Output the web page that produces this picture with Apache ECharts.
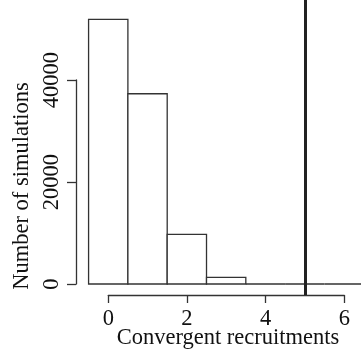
<!DOCTYPE html>
<html><head><meta charset="utf-8">
<script src="https://cdn.jsdelivr.net/npm/echarts@6/dist/echarts.min.js"></script>
<style>html,body{margin:0;padding:0;background:#fff}#c{width:361px;height:353px}</style>
</head><body><div id="c"></div>
<script>
var binCenters = [0, 1, 2, 3, 4, 5, 6];
var counts = [51900, 37300, 9740, 1310, 0, 0, 0];
var observed = 5;
var xTicks = [0, 2, 4, 6];
var yTicks = [0, 20000, 40000];
var xTitle = 'Convergent recruitments';
var yTitle = 'Number of simulations';

var FONT = '"Liberation Serif", "Times New Roman", serif';
var INK = '#333';
var chart = echarts.init(document.getElementById('c'), null, {renderer: 'canvas'});
var data = binCenters.map(function (c, i) { return [c, counts[i]]; });

chart.setOption({
  animation: false,
  backgroundColor: '#fff',
  grid: [
    {left: 76, right: 0, top: 0, bottom: 58},
    {left: 108.3, width: 236, top: 0, bottom: 58},
    {left: 76, right: 0, top: 80, bottom: 69}
  ],
  xAxis: [
    {gridIndex: 0, type: 'value', min: -0.82, max: 6.43, show: false},
    {gridIndex: 1, type: 'value', min: xTicks[0], max: xTicks[xTicks.length - 1], interval: 2,
     axisLine: {show: true, lineStyle: {color: INK, width: 1.3}},
     axisTick: {show: true, length: 8, lineStyle: {color: INK, width: 1.3}},
     splitLine: {show: false},
     axisLabel: {fontFamily: FONT, fontSize: 22.5, color: '#111', margin: 13,
                 formatter: function (v) { return String(v); }}},
    {gridIndex: 2, type: 'value', min: 0, max: 1, show: false}
  ],
  yAxis: [
    {gridIndex: 0, type: 'value', min: -2157, max: 55686, show: false},
    {gridIndex: 1, type: 'value', min: 0, max: 1, show: false},
    {gridIndex: 2, type: 'value', min: yTicks[0], max: yTicks[yTicks.length - 1], interval: 20000,
     axisLine: {show: true, lineStyle: {color: INK, width: 1.3}},
     axisTick: {show: true, length: 9, lineStyle: {color: INK, width: 1.3}},
     splitLine: {show: false},
     axisLabel: {fontFamily: FONT, fontSize: 22.5, color: '#111', rotate: 90, margin: 12,
                 formatter: function (v) { return String(v); }}}
  ],
  graphic: [
    {type: 'text', x: 228, y: 338, style: {text: xTitle, font: '22.5px ' + FONT, fill: '#111', align: 'center', verticalAlign: 'middle'}},
    {type: 'text', x: 22, y: 186, rotation: Math.PI / 2, style: {text: yTitle, font: '22.5px ' + FONT, fill: '#111', align: 'center', verticalAlign: 'middle'}}
  ],
  series: [{
    type: 'custom',
    xAxisIndex: 0, yAxisIndex: 0,
    clip: true,
    data: data,
    renderItem: function (params, api) {
      var x = api.value(0), v = api.value(1);
      var p0 = api.coord([x - 0.5, 0]);
      var p1 = api.coord([x + 0.5, v]);
      return {
        type: 'rect',
        shape: {x: p0[0], y: p1[1], width: p1[0] - p0[0], height: p0[1] - p1[1]},
        style: {fill: '#fff', stroke: INK, lineWidth: 1.3}
      };
    },
    markLine: {
      silent: true, symbol: 'none', label: {show: false},
      lineStyle: {color: '#222', width: 3, type: 'solid'},
      data: [{xAxis: observed}]
    }
  }]
});
</script></body></html>
